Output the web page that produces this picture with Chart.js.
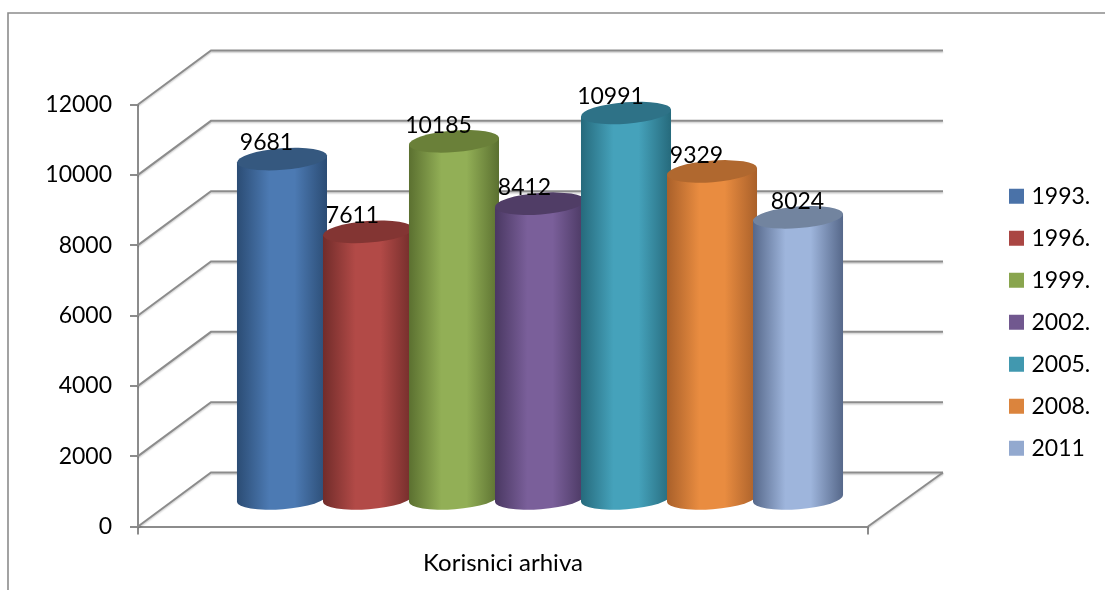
<!DOCTYPE html>
<html>
<head>
<meta charset="utf-8">
<style>
html, body { margin: 0; padding: 0; background: #fff; }
</style>
<script src="https://cdn.jsdelivr.net/npm/chart.js@4"></script>
</head>
<body>
<canvas id="grafik" width="1105" height="590"></canvas>
<script>
const kategorije = ['Korisnici arhiva'];
const godine = ['1993.', '1996.', '1999.', '2002.', '2005.', '2008.', '2011'];
const korisnici = [9681, 7611, 10185, 8412, 10991, 9329, 8024];
const tickoviY = [0, 2000, 4000, 6000, 8000, 10000, 12000];

// boje: legenda, rub valjka, sredina valjka, gornja ploha
const bojeLegenda = ['#4A72A8', '#AA4643', '#89A54E', '#71588F', '#4198AF', '#DB843D', '#93A9CF'];
const bojeRub = ['#2B4C74', '#712C2A', '#5B7030', '#4A3862', '#266A7C', '#A9602A', '#56688A'];
const bojeSredina = ['#4C7AB3', '#B24A47', '#92AF56', '#7A5F9A', '#45A2BB', '#E98C40', '#9EB5DC'];
const bojeVrh = ['#35587F', '#833533', '#6A8039', '#503D66', '#2E7287', '#B0682F', '#72849F'];

const SIVA = '#8C8C8C';
const DUBINA_X = 73;
const DUBINA_Y = 54;
const NAGIB = -0.078;
const POLUOS = 10.8;

// pomak oznake u odnosu na sredinu valjka (zadnji je centriran)
function pomakOznake(i) {
    return i === godine.length - 1 ? 0 : -15;
}

function crtajZidove(chart) {
    const { ctx, chartArea, scales } = chart;
    ctx.save();
    ctx.strokeStyle = SIVA;
    ctx.lineWidth = 2;
    ctx.shadowColor = 'rgba(0,0,0,0.18)';
    ctx.shadowOffsetY = 1.5;
    ctx.shadowBlur = 1.5;
    tickoviY.forEach(t => {
        const y = scales.y.getPixelForValue(t);
        ctx.beginPath();
        ctx.moveTo(chartArea.left, y);
        ctx.lineTo(chartArea.left + DUBINA_X, y - DUBINA_Y);
        ctx.lineTo(chartArea.right + DUBINA_X + 2, y - DUBINA_Y);
        ctx.stroke();
    });
    const dno = scales.y.getPixelForValue(0);
    ctx.beginPath();
    ctx.moveTo(chartArea.right, dno);
    ctx.lineTo(chartArea.right + DUBINA_X + 2, dno - DUBINA_Y);
    ctx.stroke();
    ctx.restore();
}

function crtajValjak(ctx, bar, i) {
    const a = bar.width / 2;
    const cx = bar.x + DUBINA_X / 2 + 0.5;
    const vrh = bar.y - DUBINA_Y / 2;
    const baza = bar.base - DUBINA_Y / 2;
    const lijevo = cx - a * Math.cos(NAGIB);
    const desno = cx + a * Math.cos(NAGIB);
    const pomakY = a * Math.sin(NAGIB);

    const g = ctx.createLinearGradient(lijevo, 0, desno, 0);
    g.addColorStop(0, bojeRub[i]);
    g.addColorStop(0.36, bojeSredina[i]);
    g.addColorStop(0.64, bojeSredina[i]);
    g.addColorStop(1, bojeRub[i]);

    ctx.save();
    ctx.fillStyle = g;
    ctx.beginPath();
    ctx.moveTo(lijevo, vrh - pomakY);
    ctx.lineTo(lijevo, baza - pomakY);
    ctx.ellipse(cx, baza, a, POLUOS, NAGIB, Math.PI, 0, true);
    ctx.lineTo(desno, vrh + pomakY);
    ctx.closePath();
    ctx.fill();

    ctx.fillStyle = bojeVrh[i];
    ctx.beginPath();
    ctx.ellipse(cx, vrh, a, POLUOS, NAGIB, 0, Math.PI * 2);
    ctx.fill();
    ctx.restore();
}

const valjci = {
    id: 'valjci',
    beforeDraw(chart) {
        // okvir
        const { ctx, width, height } = chart;
        ctx.save();
        ctx.strokeStyle = SIVA;
        ctx.lineWidth = 1.6;
        ctx.beginPath();
        ctx.moveTo(8, height);
        ctx.lineTo(8, 13);
        ctx.lineTo(width, 13);
        ctx.stroke();
        ctx.restore();
    },
    afterLayout(chart) {
        // legenda stoji desno od grafa, s razmakom kao u originalu
        const l = chart.legend;
        const w = l.width;
        l.left = 1013 - l.options.labels.padding;
        l.right = l.left + w;
        l.bottom = 540;
    },
    beforeDatasetsDraw(chart) {
        crtajZidove(chart);
    },
    beforeDatasetDraw() {
        return false;
    },
    afterDatasetsDraw(chart) {
        const ctx = chart.ctx;
        korisnici.forEach((v, i) => {
            crtajValjak(ctx, chart.getDatasetMeta(i).data[0], i);
        });
        ctx.save();
        ctx.fillStyle = '#000';
        ctx.font = '23px Lato';
        ctx.textAlign = 'center';
        ctx.textBaseline = 'middle';
        korisnici.forEach((v, i) => {
            const bar = chart.getDatasetMeta(i).data[0];
            ctx.fillText(String(v), bar.x + DUBINA_X / 2 + pomakOznake(i), bar.y - DUBINA_Y / 2 - 16);
        });
        ctx.restore();
    }
};

new Chart(document.getElementById('grafik'), {
    type: 'bar',
    data: {
        labels: kategorije,
        datasets: godine.map((g, i) => ({
            label: g,
            data: [korisnici[i]],
            backgroundColor: bojeLegenda[i],
            borderWidth: 0,
            categoryPercentage: 0.8247,
            barPercentage: 1.05
        }))
    },
    options: {
        responsive: false,
        animation: false,
        layout: { padding: { top: 104.5, left: 0, right: 137, bottom: 0 } },
        plugins: {
            tooltip: { enabled: false },
            title: { display: false },
            legend: {
                position: 'right',
                maxWidth: 100,
                labels: {
                    usePointStyle: true,
                    pointStyle: 'rect',
                    boxWidth: 7,
                    boxHeight: 15,
                    padding: 19,
                    color: '#000',
                    font: { family: 'Lato', size: 23 }
                }
            }
        },
        scales: {
            x: {
                afterFit(scale) { scale.height = 63.5; },
                border: { color: SIVA, width: 2 },
                grid: { drawOnChartArea: false, drawTicks: true, tickLength: 8, color: SIVA, lineWidth: 2 },
                ticks: { color: '#000', padding: 14, font: { family: 'Lato', size: 24 } }
            },
            y: {
                min: 0,
                max: 12000,
                afterFit(scale) { scale.width = 138; },
                border: { color: SIVA, width: 2 },
                grid: { drawOnChartArea: false, drawTicks: true, tickLength: 8, color: SIVA, lineWidth: 2 },
                ticks: {
                    stepSize: 2000,
                    color: '#000',
                    padding: 18,
                    font: { family: 'Lato', size: 23 },
                    callback: v => String(v)
                }
            }
        }
    },
    plugins: [valjci]
});
</script>
</body>
</html>
